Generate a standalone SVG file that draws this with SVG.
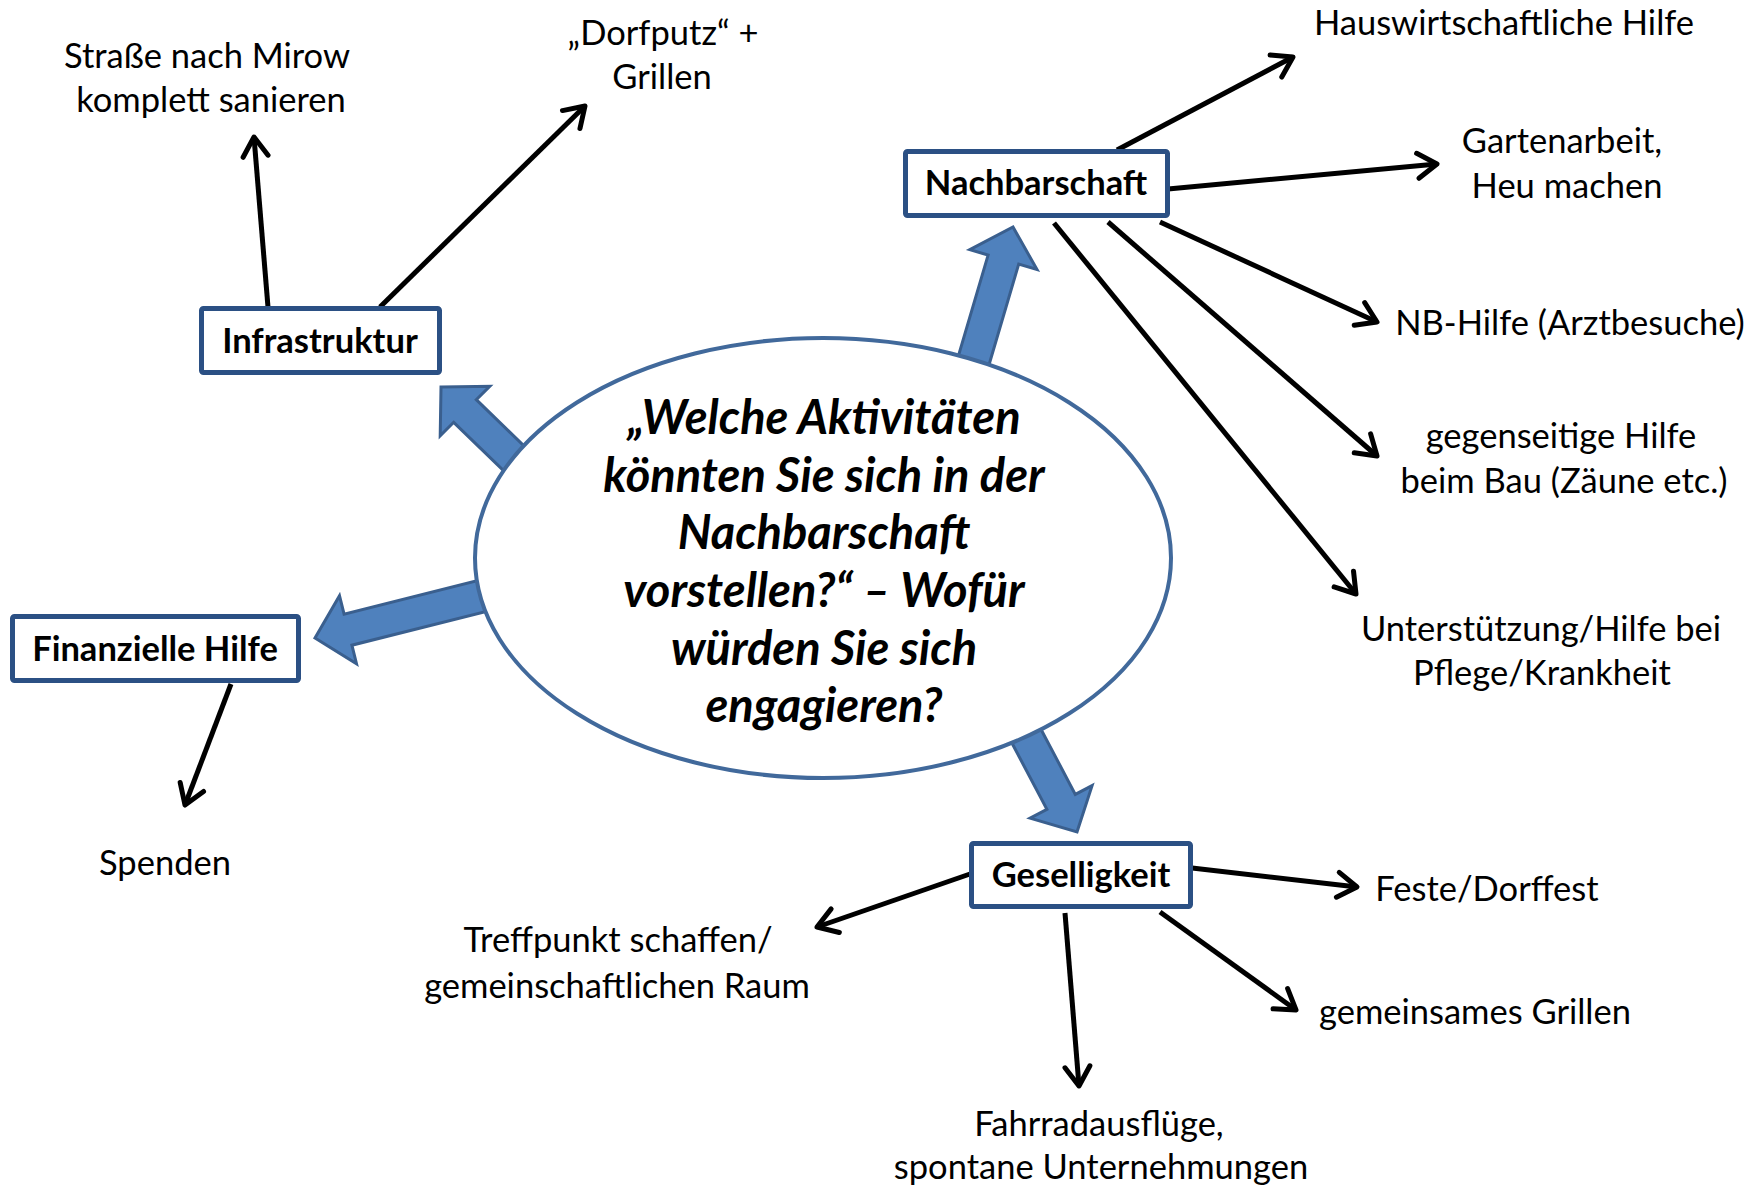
<svg xmlns="http://www.w3.org/2000/svg" width="1762" height="1185" viewBox="0 0 1762 1185">
<defs>
<marker id="ah" markerUnits="userSpaceOnUse" markerWidth="40" markerHeight="40" viewBox="-25 -20 30 40" refX="0" refY="0" orient="auto">
<path d="M -19.3 -12.5 L 0 0 L -19.3 12.5" fill="none" stroke="#000" stroke-width="5" stroke-linecap="round" stroke-linejoin="round"/>
</marker>
</defs>
<style>
.bg{fill:#fff}
.box{fill:#fff;stroke:#2B5084;stroke-width:5}
.blk{fill:#4F81BD;stroke:#3A5F8E;stroke-width:3;stroke-linejoin:miter}
.ell{fill:#fff;stroke:#41699B;stroke-width:4}
.con{fill:none;stroke:#000;stroke-width:5;marker-end:url(#ah)}
.lbl{font-family:Lato,"Open Sans","Liberation Sans",sans-serif;font-size:34.5px;fill:#000;text-anchor:middle}
.bl{font-family:Lato,"Open Sans","Liberation Sans",sans-serif;font-size:34.5px;font-weight:bold;fill:#000;text-anchor:middle}
.q{font-family:Lato,"Open Sans","Liberation Sans",sans-serif;font-size:47px;font-weight:bold;font-style:italic;fill:#000;text-anchor:middle}
</style>
<rect class="bg" x="0" y="0" width="1762" height="1185"/>

<g id="block-arrows">
<polygon class="blk" points="441,387 489.8,386.3 476.3,399.7 541.3,462.7 518.7,485.3 453.7,422.3 440.2,435.8"/>
<polygon class="blk" points="1013,227 1037,269.5 1018.7,264.1 985.9,375.4 955.3,366.4 988.1,255.1 969.8,249.7"/>
<polygon class="blk" points="315,638 356.5,663.7 351.9,645.2 498.4,608.4 490.6,577.4 344.1,614.2 339.5,595.7"/>
<polygon class="blk" points="1077,832 1092.1,785.6 1075.3,794.4 1035.2,718.3 1006.8,733.3 1046.9,809.4 1030.1,818.2"/>
</g>

<g id="center">
<ellipse class="ell" cx="823" cy="558" rx="348" ry="220"/>
<text class="q" x="824" y="434">„Welche Aktivitäten</text>
<text class="q" x="824" y="492">könnten Sie sich in der</text>
<text class="q" x="824" y="549">Nachbarschaft</text>
<text class="q" x="824" y="607">vorstellen?“ – Wofür</text>
<text class="q" x="824" y="665">würden Sie sich</text>
<text class="q" x="824" y="722">engagieren?</text>
</g>

<g id="connectors">
<line class="con" x1="268" y1="307" x2="254" y2="137"/>
<line class="con" x1="380" y1="307" x2="585" y2="106"/>
<line class="con" x1="231" y1="684" x2="185" y2="805"/>
<line class="con" x1="1117" y1="150" x2="1293" y2="57"/>
<line class="con" x1="1168" y1="189" x2="1437" y2="164"/>
<line class="con" x1="1160" y1="222" x2="1377" y2="322"/>
<line class="con" x1="1108" y1="222" x2="1377" y2="456"/>
<line class="con" x1="1054" y1="223" x2="1356" y2="594"/>
<line class="con" x1="970" y1="874" x2="817" y2="927"/>
<line class="con" x1="1192" y1="868" x2="1357" y2="887"/>
<line class="con" x1="1160" y1="912" x2="1296" y2="1010"/>
<line class="con" x1="1065" y1="913" x2="1079" y2="1086"/>
</g>

<g id="infrastruktur">
<rect class="box" x="201.5" y="308.5" width="238" height="64" rx="2"/>
<text class="bl" x="320" y="353">Infrastruktur</text>
</g>
<g id="nachbarschaft">
<rect class="box" x="905.5" y="151.5" width="262" height="64" rx="2"/>
<text class="bl" x="1036" y="195">Nachbarschaft</text>
</g>
<g id="finanzielle-hilfe">
<rect class="box" x="12.5" y="616.5" width="286" height="64" rx="2"/>
<text class="bl" x="155" y="661">Finanzielle Hilfe</text>
</g>
<g id="geselligkeit">
<rect class="box" x="971.5" y="843.5" width="219" height="63" rx="2"/>
<text class="bl" x="1081" y="887">Geselligkeit</text>
</g>

<g id="strasse"><text class="lbl" x="207" y="68">Straße nach Mirow</text><text class="lbl" x="211" y="112">komplett sanieren</text></g>
<g id="dorfputz"><text class="lbl" x="663" y="45">„Dorfputz“ +</text><text class="lbl" x="662" y="89">Grillen</text></g>
<g id="spenden"><text class="lbl" x="165" y="875">Spenden</text></g>
<g id="hauswirtschaftliche"><text class="lbl" x="1504" y="35">Hauswirtschaftliche Hilfe</text></g>
<g id="gartenarbeit"><text class="lbl" x="1562" y="153">Gartenarbeit,</text><text class="lbl" x="1567" y="198">Heu machen</text></g>
<g id="nb-hilfe"><text class="lbl" x="1570" y="335">NB-Hilfe (Arztbesuche)</text></g>
<g id="gegenseitige"><text class="lbl" x="1561" y="448">gegenseitige Hilfe</text><text class="lbl" x="1564" y="493">beim Bau (Zäune etc.)</text></g>
<g id="unterstuetzung"><text class="lbl" x="1541" y="641">Unterstützung/Hilfe bei</text><text class="lbl" x="1542" y="685">Pflege/Krankheit</text></g>
<g id="treffpunkt"><text class="lbl" x="618" y="952">Treffpunkt schaffen/</text><text class="lbl" x="617" y="998">gemeinschaftlichen Raum</text></g>
<g id="feste"><text class="lbl" x="1487" y="901">Feste/Dorffest</text></g>
<g id="grillen"><text class="lbl" x="1475" y="1024">gemeinsames Grillen</text></g>
<g id="fahrrad"><text class="lbl" x="1099" y="1136">Fahrradausflüge,</text><text class="lbl" x="1101" y="1179">spontane Unternehmungen</text></g>
</svg>
